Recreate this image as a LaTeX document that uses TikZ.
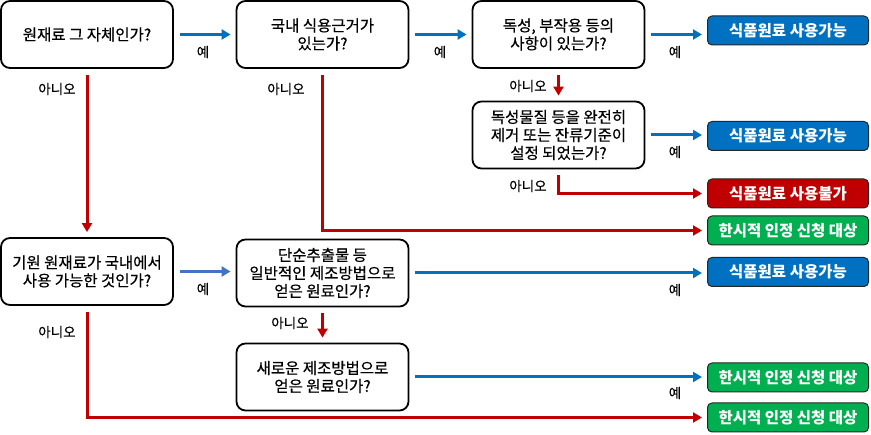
\documentclass[tikz,border=0pt]{standalone}
\usepackage{fontspec}
\setmainfont{Noto Sans CJK KR}
\newfontfamily\heavykr{Noto Sans CJK KR}[FakeBold=0.5]
\usetikzlibrary{arrows.meta}
\definecolor{okblue}{HTML}{0070C0}
\definecolor{softblue}{HTML}{4472C4}
\definecolor{nored}{HTML}{C00000}
\definecolor{tempgreen}{HTML}{00B050}
\tikzset{
    question/.style={draw=black, line width=1.8pt, rounded corners=9pt, fill=white, minimum width=172pt, minimum height=67pt, inner sep=0pt, align=center, font=\heavykr\fontsize{15.5}{18}\selectfont},
    outcome/.style={draw=black!85, line width=1pt, rounded corners=4.5pt, minimum width=161pt, minimum height=29pt, inner sep=0pt, text=white, font=\fontsize{15.5}{16}\selectfont\bfseries},
    usable/.style={outcome, fill=okblue},
    notusable/.style={outcome, fill=nored},
    temporary/.style={outcome, fill=tempgreen},
    yesline/.style={draw=okblue, line width=3pt, -{Triangle[length=9pt,width=10pt]}, shorten <=6pt, shorten >=5pt},
    noline/.style={draw=nored, line width=3pt, -{Triangle[length=9pt,width=10pt]}, shorten <=6pt, shorten >=5pt},
    answer/.style={inner sep=0pt, font=\heavykr\fontsize{13.5}{14}\selectfont}
}

\begin{document}
\begin{tikzpicture}
  [
    x = 1pt,
    y = -1pt,
  ]
  \useasboundingbox (0,0) rectangle (871,435);

  \node [question] (raw)      at (87,34.5)    {원재료 그 자체인가?};
  \node [question] (domestic) at (322.5,34.5) {국내 식용근거가\\있는가?};
  \node [question] (toxic)    at (558.5,34.5) {독성, 부작용 등의\\사항이 있는가?};
  \node [question] (removed)  at (558.5,135)  {독성물질 등을 완전히\\제거 또는 잔류기준이\\설정 되었는가?};
  \node [question] (origin)   at (87,271.5)   {기원 원재료가 국내에서\\사용 가능한 것인가?};
  \node [question] (simple)   at (322.5,273)  {단순추출물 등\\일반적인 제조방법으로\\얻은 원료인가?};
  \node [question] (novel)    at (322.5,377)  {새로운 제조방법으로\\얻은 원료인가?};

  \node [usable]    (okA)   at (788,30.5)  {식품원료 사용가능};
  \node [usable]    (okB)   at (788,136)   {식품원료 사용가능};
  \node [notusable] (nok)   at (788,193.5) {식품원료 사용불가};
  \node [temporary] (tempA) at (788,230.5) {한시적 인정 신청 대상};
  \node [usable]    (okC)   at (788,272)   {식품원료 사용가능};
  \node [temporary] (tempB) at (788,377.5) {한시적 인정 신청 대상};
  \node [temporary] (tempC) at (788,417.5) {한시적 인정 신청 대상};

  \draw [yesline] (raw.east) -- (domestic.west);
  \draw [yesline] (domestic.east) -- (toxic.west);
  \draw [yesline] (toxic.east) -- (toxic.east -| okA.west);
  \draw [noline]  (toxic.south) -- (removed.north);
  \draw [yesline] (removed.east) -- (removed.east -| okB.west);
  \draw [noline]  (removed.south) |- (nok.west);
  \draw [noline]  (domestic.south) |- (tempA.west);
  \draw [noline]  (raw.south) -- (origin.north);
  \draw [yesline, draw=softblue] (origin.east) -- (origin.east -| simple.west);
  \draw [yesline] (simple.east) -- (simple.east -| okC.west);
  \draw [noline]  (simple.south) -- (novel.north);
  \draw [yesline] (novel.east) -- (novel.east -| tempB.west);
  \draw [noline]  (origin.south) |- (tempC.west);

  \node [answer] (yesA) at (203,52)  {예};
  \node [answer] (yesB) at (440,52)  {예};
  \node [answer] (yesC) at (675,52)  {예};
  \node [answer] (yesD) at (675,152) {예};
  \node [answer] (yesE) at (203,289) {예};
  \node [answer] (yesF) at (675,290) {예};
  \node [answer] (yesG) at (675,393) {예};
  \node [answer] (noA)  at (57,89)   {아니오};
  \node [answer] (noB)  at (286,89)  {아니오};
  \node [answer] (noC)  at (528,86)  {아니오};
  \node [answer] (noD)  at (528,186) {아니오};
  \node [answer] (noE)  at (290,323) {아니오};
  \node [answer] (noF)  at (57,332)  {아니오};
\end{tikzpicture}
\end{document}
